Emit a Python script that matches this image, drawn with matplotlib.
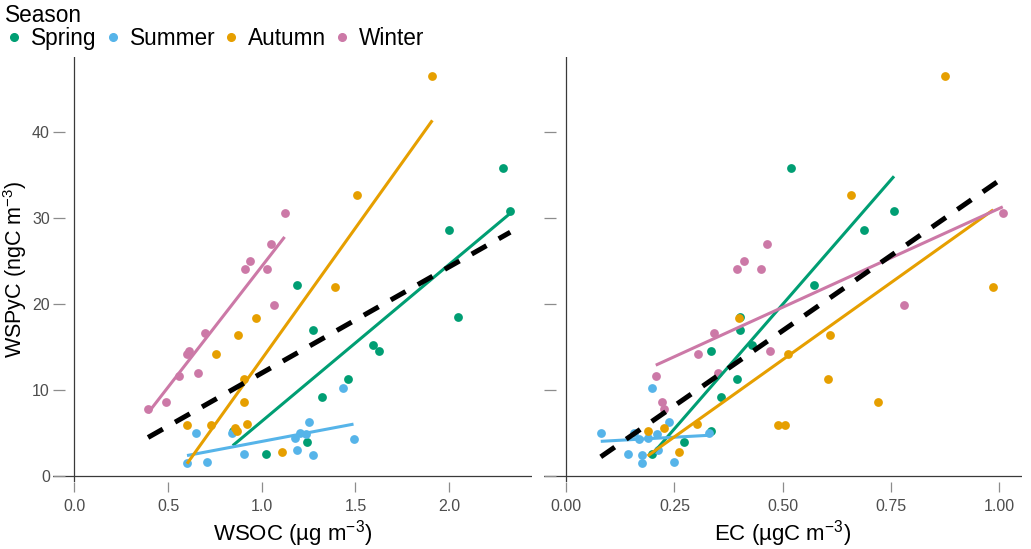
import matplotlib
matplotlib.use('Agg')
import matplotlib.pyplot as plt
from matplotlib.lines import Line2D

# ==============================
# FONTS / STYLE
# ==============================
plt.rcParams['font.family'] = ['Liberation Sans', 'DejaVu Sans']
plt.rcParams['mathtext.fontset'] = 'custom'
plt.rcParams['mathtext.rm'] = 'Liberation Sans'
plt.rcParams['mathtext.it'] = 'Liberation Sans:italic'
plt.rcParams['mathtext.default'] = 'regular'

# ==============================
# DATA
# ==============================
seasons = ['Spring', 'Summer', 'Autumn', 'Winter']
colors = ['#009E73', '#56B4E9', '#E69F00', '#CC79A7']

spring_wspyc = [22.2, 16.9, 9.2, 3.9, 2.5, 11.3, 15.2, 14.5, 28.5, 18.4, 35.8, 30.8, 5.2]
spring_wsoc = [1.188, 1.271, 1.321, 1.241, 1.024, 1.463, 1.596, 1.627, 2.002, 2.05, 2.29, 2.327, 0.845]
spring_ec = [0.572, 0.402, 0.357, 0.272, 0.199, 0.395, 0.429, 0.334, 0.688, 0.402, 0.519, 0.757, 0.334]

summer_wspyc = [1.5, 5.0, 1.6, 5.0, 2.5, 3.05, 4.33, 5.0, 4.8, 6.2, 2.47, 10.2, 4.24]
summer_wsoc = [0.601, 0.651, 0.709, 0.841, 0.903, 1.187, 1.179, 1.205, 1.236, 1.25, 1.273, 1.433, 1.49]
summer_ec = [0.175, 0.08, 0.25, 0.157, 0.144, 0.212, 0.19, 0.329, 0.209, 0.238, 0.176, 0.198, 0.168]

autumn_wspyc = [5.95, 5.87, 14.1, 16.4, 8.6, 5.5, 5.17, 6.0, 18.35, 11.3, 2.77, 21.95, 32.65, 46.4]
autumn_wsoc = [0.601, 0.731, 0.756, 0.873, 0.903, 0.855, 0.868, 0.921, 0.971, 0.903, 1.108, 1.392, 1.511, 1.911]
autumn_ec = [0.488, 0.505, 0.512, 0.609, 0.72, 0.227, 0.188, 0.302, 0.40, 0.605, 0.261, 0.986, 0.658, 0.875]

winter_wspyc = [7.7, 8.6, 11.6, 14.1, 14.45, 11.9, 16.6, 24.0, 25.0, 24.0, 26.9, 19.9, 30.5]
winter_wsoc = [0.393, 0.491, 0.56, 0.601, 0.61, 0.66, 0.699, 0.908, 0.939, 1.029, 1.049, 1.063, 1.122]
winter_ec = [0.225, 0.222, 0.207, 0.305, 0.471, 0.35, 0.342, 0.394, 0.411, 0.451, 0.463, 0.78, 1.008]

# fitted lines (end points)
spring_fit_wsoc = ([0.845, 2.327], [3.5, 30.5])
summer_fit_wsoc = ([0.601, 1.49], [2.35, 6.0])
autumn_fit_wsoc = ([0.601, 1.911], [1.4, 41.3])
winter_fit_wsoc = ([0.393, 1.122], [7.3, 27.75])
all_fit_wsoc = ([0.393, 2.327], [4.45, 28.3])

spring_fit_ec = ([0.199, 0.757], [2.5, 34.8])
summer_fit_ec = ([0.08, 0.329], [4.0, 4.7])
autumn_fit_ec = ([0.188, 0.986], [2.3, 30.9])
winter_fit_ec = ([0.207, 1.008], [12.85, 31.25])
all_fit_ec = ([0.08, 1.008], [2.2, 34.6])

wspyc = [spring_wspyc, summer_wspyc, autumn_wspyc, winter_wspyc]
wsoc = [spring_wsoc, summer_wsoc, autumn_wsoc, winter_wsoc]
ec = [spring_ec, summer_ec, autumn_ec, winter_ec]
fits_wsoc = [spring_fit_wsoc, summer_fit_wsoc, autumn_fit_wsoc, winter_fit_wsoc]
fits_ec = [spring_fit_ec, summer_fit_ec, autumn_fit_ec, winter_fit_ec]

wsoc_ticks = [0.0, 0.5, 1.0, 1.5, 2.0]
wsoc_ticklabels = ['0.0', '0.5', '1.0', '1.5', '2.0']
ec_ticks = [0.0, 0.25, 0.5, 0.75, 1.0]
ec_ticklabels = ['0.00', '0.25', '0.50', '0.75', '1.00']
y_ticks = [0, 10, 20, 30, 40]

# ==============================
# FIGURE
# ==============================
fig = plt.figure(figsize=(10.31, 5.49), dpi=100)
ax1 = fig.add_axes([0.0511, 0.1215, 0.4649, 0.7745])
ax2 = fig.add_axes([0.5279, 0.1215, 0.4630, 0.7745])


def draw_panel(ax, xs, fits, all_fit, xlim, ticks, ticklabels, xlabel, show_ylabels):
    for i in range(len(seasons)):
        ax.scatter(xs[i], wspyc[i], s=40, color=colors[i], linewidths=0, zorder=3)
    for i in range(len(seasons)):
        ax.plot(fits[i][0], fits[i][1], color=colors[i], linewidth=2.2,
                solid_capstyle='butt', zorder=4)
    ax.plot(all_fit[0], all_fit[1], color='black', linewidth=3.6,
            linestyle=(0, (3.4, 2.8)), dash_capstyle='butt', zorder=5)

    ax.axhline(0, color='#3a3a3a', linewidth=0.9, zorder=1)
    ax.axvline(0, color='#3a3a3a', linewidth=0.9, zorder=1)

    ax.set_xlim(xlim)
    ax.set_ylim(-0.76, 48.65)
    for s in ax.spines.values():
        s.set_visible(False)

    ax.set_xticks(ticks)
    ax.set_xticklabels(ticklabels)
    ax.set_yticks(y_ticks)
    ax.tick_params(axis='x', direction='out', length=7.2, width=0.9, color='#8c8c8c',
                   labelcolor='#4d4d4d', labelsize=11.5, pad=5)
    ax.tick_params(axis='y', direction='in', length=8.6, width=0.9, color='#8c8c8c',
                   labelcolor='#4d4d4d', labelsize=11.5, pad=2, labelleft=show_ylabels)
    ax.set_xlabel(xlabel, fontsize=16, labelpad=3)


draw_panel(ax1, wsoc, fits_wsoc, all_fit_wsoc, (-0.1163, 2.443),
           wsoc_ticks, wsoc_ticklabels, 'WSOC (µg m$^{-3}$)', True)
draw_panel(ax2, ec, fits_ec, all_fit_ec, (-0.0504, 1.0515),
           ec_ticks, ec_ticklabels, 'EC (µgC m$^{-3}$)', False)

ax1.set_ylabel('WSPyC (ngC m$^{-3}$)', fontsize=15.5, labelpad=2)

# legend on top
handles = [Line2D([], [], marker='o', linestyle='', color=c, markersize=5.5) for c in colors]
leg = fig.legend(handles, seasons, title='Season', loc='upper left',
                 bbox_to_anchor=(0.005, 0.992), ncol=4, frameon=False,
                 fontsize=16.3, title_fontsize=16.3, handlelength=0.8,
                 handletextpad=0.35, columnspacing=0.3, borderpad=0.0,
                 borderaxespad=0.0, labelspacing=0.0, alignment='left')

plt.savefig('out.png', dpi=100)
plt.close(fig)
